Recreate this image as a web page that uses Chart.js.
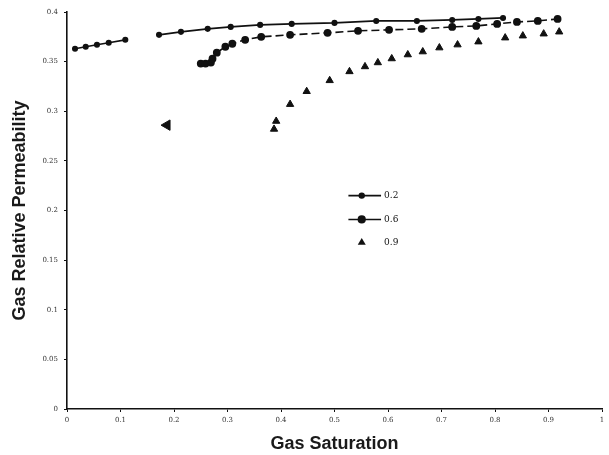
<!DOCTYPE html>
<html>
<head>
<meta charset="utf-8">
<script src="https://cdn.jsdelivr.net/npm/chart.js@4.4.1/dist/chart.umd.min.js"></script>
<style>
    html, body { margin: 0; padding: 0; background: #fff; }
    #wrap { width: 609px; height: 455px; position: relative; }
</style>
</head>
<body>
<div id="wrap"><canvas id="krgChart" width="609" height="455"></canvas></div>
<script>
// Gas saturation / gas relative permeability
const labels = ['0.2', '0.6', '0.9'];

const sg02 = [0.015, 0.035, 0.056, 0.078, 0.109, null, 0.172, 0.213, 0.263, 0.306, 0.361, 0.42, 0.5, 0.578, 0.654, 0.72, 0.769, 0.815];
const krg02 = [0.363, 0.365, 0.367, 0.369, 0.372, null, 0.377, 0.380, 0.383, 0.385, 0.387, 0.388, 0.389, 0.391, 0.391, 0.392, 0.393, 0.394];

const sg06 = [0.25, 0.259, 0.269, 0.272, 0.28, 0.296, 0.309, 0.333, 0.363, 0.417, 0.487, 0.544, 0.602, 0.663, 0.72, 0.765, 0.804, 0.841, 0.88, 0.917];
const krg06 = [0.348, 0.348, 0.349, 0.353, 0.359, 0.365, 0.368, 0.372, 0.375, 0.377, 0.379, 0.381, 0.382, 0.383, 0.385, 0.386, 0.388, 0.390, 0.391, 0.393];

const sg09 = [0.387, 0.391, 0.417, 0.448, 0.491, 0.528, 0.557, 0.581, 0.607, 0.637, 0.665, 0.696, 0.73, 0.769, 0.819, 0.852, 0.891, 0.92];
const krg09 = [0.282, 0.290, 0.307, 0.320, 0.331, 0.340, 0.345, 0.349, 0.353, 0.357, 0.360, 0.364, 0.367, 0.370, 0.374, 0.376, 0.378, 0.380];

// stray marker on the scan
const sgStray = [0.187];
const krgStray = [0.286];

const xTicks = ['0', '0.1', '0.2', '0.3', '0.4', '0.5', '0.6', '0.7', '0.8', '0.9', '1'];
const yTicks = ['0', '0.05', '0.1', '0.15', '0.2', '0.25', '0.3', '0.35', '0.4'];

function pts(xs, ys) {
    return xs.map((x, i) => ({ x: x, y: ys[i] }));
}

// legend drawn inside the plot area
const insideLegend = {
    id: 'insideLegend',
    afterDatasetsDraw(chart) {
        const ctx = chart.ctx;
        const xs = chart.scales.x, ys = chart.scales.y;
        const x0 = xs.getPixelForValue(0.526), x1 = xs.getPixelForValue(0.587);
        const rows = [0.215, 0.191, 0.168];
        ctx.save();
        for (let i = 0; i < 3; i++) {
            const ds = chart.data.datasets[i];
            const y = ys.getPixelForValue(rows[i]);
            const xm = (x0 + x1) / 2;
            if (ds.showLine) {
                ctx.strokeStyle = '#111';
                ctx.lineWidth = 1.6;
                ctx.beginPath();
                ctx.moveTo(x0, y);
                ctx.lineTo(x1, y);
                ctx.stroke();
            }
            ctx.fillStyle = '#111';
            if (ds.pointStyle === 'triangle') {
                const r = ds.pointRadius;
                ctx.beginPath();
                ctx.moveTo(xm - 3, y - r);
                ctx.lineTo(xm + 1, y + r * 0.6);
                ctx.lineTo(xm - 7, y + r * 0.6);
                ctx.closePath();
                ctx.fill();
            } else {
                ctx.beginPath();
                ctx.arc(xm - 3, y, ds.pointRadius + 1, 0, Math.PI * 2);
                ctx.fill();
            }
            ctx.font = '9px "DejaVu Serif"';
            ctx.textBaseline = 'middle';
            ctx.fillText(labels[i], x1 + 3, y);
        }
        ctx.restore();
    }
};

const ctx = document.getElementById('krgChart').getContext('2d');
new Chart(ctx, {
    type: 'scatter',
    data: {
        datasets: [{
            label: labels[0],
            data: pts(sg02, krg02),
            showLine: true,
            spanGaps: false,
            borderColor: '#111',
            backgroundColor: '#111',
            borderWidth: 1.7,
            pointRadius: 2.2,
            pointStyle: 'circle'
        }, {
            label: labels[1],
            data: pts(sg06, krg06),
            showLine: true,
            borderColor: '#111',
            backgroundColor: '#111',
            borderWidth: 1.6,
            borderDash: [8, 4],
            pointRadius: 3.1,
            pointStyle: 'circle'
        }, {
            label: labels[2],
            data: pts(sg09, krg09),
            showLine: false,
            borderColor: '#111',
            backgroundColor: '#111',
            pointRadius: 4.2,
            pointStyle: 'triangle'
        }, {
            label: '',
            data: pts(sgStray, krgStray),
            showLine: false,
            borderColor: '#111',
            backgroundColor: '#111',
            pointRadius: 6,
            pointStyle: 'triangle',
            rotation: -90
        }]
    },
    options: {
        responsive: false,
        animation: false,
        layout: { padding: { left: 0, right: 2, top: 12, bottom: 0 } },
        plugins: {
            legend: { display: false },
            tooltip: { enabled: false }
        },
        scales: {
            x: {
                type: 'linear',
                min: 0,
                max: 1,
                afterFit: s => { s.height = 46; },
                border: { color: '#111', width: 1.6 },
                grid: { drawOnChartArea: false, color: '#111', tickLength: 3 },
                ticks: {
                    stepSize: 0.1,
                    color: '#333',
                    font: { size: 7, family: '"DejaVu Serif"' },
                    padding: 4,
                    maxRotation: 0,
                    callback: (v, i) => xTicks[i]
                },
                title: {
                    display: true,
                    text: 'Gas Saturation',
                    color: '#1a1a1a',
                    font: { size: 18, weight: 'bold', family: '"Liberation Sans", Arial' },
                    padding: { top: 4, bottom: 0 }
                }
            },
            y: {
                type: 'linear',
                min: 0,
                max: 0.4,
                afterFit: s => { s.width = 67; },
                border: { color: '#111', width: 1.6 },
                grid: { drawOnChartArea: false, color: '#111', tickLength: 3 },
                ticks: {
                    stepSize: 0.05,
                    color: '#333',
                    font: { size: 7, family: '"DejaVu Serif"' },
                    padding: 6,
                    callback: (v, i) => yTicks[i]
                },
                title: {
                    display: true,
                    text: 'Gas Relative Permeability',
                    color: '#1a1a1a',
                    font: { size: 18, weight: 'bold', family: '"Liberation Sans", Arial' },
                    padding: { top: 9, bottom: 4 }
                }
            }
        }
    },
    plugins: [insideLegend]
});
</script>
</body>
</html>
